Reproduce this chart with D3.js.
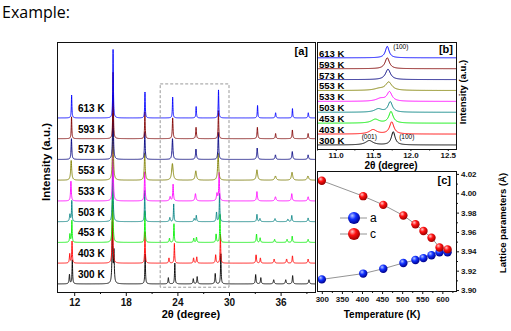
<!DOCTYPE html>
<html>
<head>
<meta charset="utf-8">
<script src="https://cdn.jsdelivr.net/npm/d3@7/dist/d3.min.js"></script>
<style>
  body { margin: 0; background: #fff; }
  svg text { font-family: 'Liberation Sans', Arial, sans-serif; }
</style>
</head>
<body>
<div id="chart-area"></div>
<script>
// temperatures, bottom trace first
const temps = [300, 403, 453, 503, 533, 553, 573, 593, 613]
const traceColors = ['#000000', '#ff0000', '#00ee00', '#008080', '#ff00ff', '#808000', '#000080', '#800000', '#0000ff']

// panel a peaks: [2theta, height (in trace spacings), half width]
const peaksA300 = [[11.45,0.45,.05],[11.78,1.15,.04],[16.44,2.9,.05],[16.62,1.5,.05],[20.25,1.45,.04],[22.95,0.3,.05],[23.7,1.0,.04],[25.85,0.25,.05],[26.3,0.35,.05],[28.4,0.5,.05],[29.05,1.45,.04],[33.1,0.45,.05],[33.7,0.3,.05],[35.2,0.2,.06],[36.6,0.2,.06],[37.4,0.4,.05],[39.3,0.2,.06]]
const peaksA403 = [[11.48,0.45,.05],[11.75,1.05,.04],[16.46,3.0,.05],[20.23,1.5,.04],[23.02,0.25,.05],[23.65,0.95,.04],[25.88,0.25,.05],[26.25,0.3,.05],[28.45,0.4,.05],[29.0,1.4,.04],[33.15,0.4,.05],[33.65,0.25,.05],[35.25,0.2,.06],[36.7,0.2,.06],[37.38,0.35,.05],[39.2,0.2,.06]]
const peaksA453 = [[11.5,0.4,.05],[11.73,1.05,.04],[16.47,3.0,.05],[20.22,1.5,.04],[23.08,0.2,.05],[23.6,0.9,.04],[25.9,0.2,.05],[26.22,0.25,.05],[28.5,0.4,.05],[28.95,1.35,.04],[33.2,0.4,.05],[33.62,0.22,.05],[35.3,0.15,.06],[36.75,0.15,.06],[37.35,0.3,.05],[39.2,0.15,.06]]
const peaksA503 = [[11.5,0.35,.06],[11.72,1.0,.04],[16.48,3.0,.05],[20.2,1.5,.04],[23.12,0.2,.06],[23.57,0.85,.04],[25.95,0.15,.06],[26.2,0.3,.05],[28.55,0.45,.05],[28.9,1.35,.04],[33.25,0.35,.05],[33.6,0.15,.06],[35.35,0.15,.07],[36.85,0.12,.07],[37.3,0.3,.05],[39.2,0.18,.06]]
const peaksA533 = [[11.62,0.95,.05],[16.5,3.0,.05],[20.2,1.4,.05],[23.15,0.2,.07],[23.5,0.8,.05],[26.1,0.35,.07],[28.6,0.35,.07],[28.85,1.35,.05],[33.25,0.45,.06],[35.4,0.2,.08],[37.3,0.35,.06],[39.2,0.2,.07]]
const peaksA553 = [[11.65,0.95,.07],[16.5,2.9,.06],[20.2,1.3,.06],[23.42,0.8,.1],[26.14,0.45,.09],[28.74,1.3,.07],[33.25,0.5,.09],[35.4,0.2,.1],[37.33,0.38,.09],[39.18,0.2,.1]]
const peaksA573 = [[11.68,1.0,.05],[16.51,3.1,.05],[20.21,1.3,.05],[23.43,1.0,.06],[26.16,0.5,.06],[28.76,1.3,.05],[33.28,0.55,.06],[35.4,0.22,.06],[37.36,0.38,.06],[39.2,0.22,.06]]
const peaksA593 = [[11.69,1.05,.04],[16.52,3.2,.04],[20.22,1.3,.04],[23.45,1.0,.05],[26.17,0.55,.05],[28.77,1.35,.04],[33.3,0.55,.05],[35.42,0.25,.05],[37.37,0.42,.05],[39.2,0.25,.05]]
const peaksA613 = [[11.70,1.1,.04],[16.52,3.3,.04],[20.23,1.25,.04],[23.45,1.0,.04],[26.18,0.55,.04],[28.78,1.35,.04],[33.32,0.6,.04],[35.42,0.25,.05],[37.38,0.45,.04],[39.22,0.25,.05]]
const peaksA = [peaksA300, peaksA403, peaksA453, peaksA503, peaksA533, peaksA553, peaksA573, peaksA593, peaksA613]

// panel b, zoom on the (001)/(100) region
const peaksB300 = [[11.45,0.4,.06],[11.77,1.2,.03]]
const peaksB403 = [[11.5,0.4,.06],[11.75,1.1,.035]]
const peaksB453 = [[11.53,0.35,.06],[11.74,1.05,.035]]
const peaksB503 = [[11.57,0.3,.06],[11.73,0.95,.035]]
const peaksB533 = [[11.6,0.25,.07],[11.72,0.85,.04]]
const peaksB553 = [[11.58,0.15,.08],[11.71,0.75,.05]]
const peaksB573 = [[11.70,0.95,.04]]
const peaksB593 = [[11.69,1.0,.035]]
const peaksB613 = [[11.69,1.05,.03]]
const peaksB = [peaksB300, peaksB403, peaksB453, peaksB503, peaksB533, peaksB553, peaksB573, peaksB593, peaksB613]

// panel c, lattice parameters
const latticeT = [300, 403, 453, 503, 533, 553, 573, 593, 613]
const latticeA = [3.911, 3.917, 3.922, 3.928, 3.931, 3.933, 3.936, 3.939, 3.939]
const latticeC = [4.013, 3.997, 3.988, 3.977, 3.968, 3.961, 3.954, 3.944, 3.942]

const ticksA = [12, 18, 24, 30, 36], minorA = [15, 21, 27, 33, 39]
const ticksB = [11.0, 11.5, 12.0, 12.5], minorB = [10.75, 11.25, 11.75, 12.25]
const ticksCx = [300, 350, 400, 450, 500, 550, 600], minorCx = [325, 375, 425, 475, 525, 575, 625]
const ticksCy = [3.90, 3.92, 3.94, 3.96, 3.98, 4.00, 4.02], minorCy = [3.91, 3.93, 3.95, 3.97, 3.99, 4.01]
const zoomBox = [22, 30]

const W = 511, H = 331

let svg = d3.select('#chart-area')
  .append('svg')
    .attr('width', W)
    .attr('height', H)

svg.append('text')
  .attr('x', 2)
  .attr('y', 18)
  .style('font-family', "'Open Sans', 'Noto Sans', sans-serif")
  .attr('font-size', '16px')
  .text('Example:')

function profile (peaks, x) {
  return d3.sum(peaks, p => p[1] / (1 + ((x - p[0]) / p[2]) ** 2))
}

function samples (peaks, lo, hi, step) {
  let xs = d3.range(lo, hi + step / 2, step).concat(peaks.map(p => p[0]))
  xs.sort((a, b) => a - b)
  return xs
}

function frame (x0, x1, y0, y1) {
  svg.append('rect')
    .attr('x', x0 + 0.5).attr('y', y0 + 0.5)
    .attr('width', x1 - x0).attr('height', y1 - y0)
    .attr('fill', 'none')
    .attr('stroke', '#111')
    .attr('stroke-width', 1)
}

function styleAxis (g, size) {
  g.select('.domain').remove()
  g.selectAll('line').attr('stroke', '#111')
  g.selectAll('text')
    .attr('font-size', size)
    .attr('font-weight', 'bold')
    .attr('fill', '#111')
}

// ---------- panel a ----------
let xA = d3.scaleLinear().domain([10, 40]).range([57, 315])
let yA = d3.scaleLinear().domain([-0.39, 11.66]).range([292, 42])

svg.append('clipPath').attr('id', 'clipA')
  .append('rect')
  .attr('x', 57).attr('y', 42).attr('width', 258).attr('height', 250)

let gA = svg.append('g').attr('clip-path', 'url(#clipA)')

peaksA.forEach((peaks, i) => {
  let line = d3.line()
    .x(d => xA(d))
    .y(d => yA(i + profile(peaks, d)))
  gA.append('path')
    .attr('d', line(samples(peaks, 10, 40, 0.01)))
    .attr('fill', 'none')
    .attr('stroke', traceColors[i])
    .attr('stroke-width', 0.9)
})

// dashed zoom box
svg.append('rect')
  .attr('x', xA(zoomBox[0]))
  .attr('y', yA(9.64))
  .attr('width', xA(zoomBox[1]) - xA(zoomBox[0]))
  .attr('height', yA(-0.16) - yA(9.64))
  .attr('fill', 'none')
  .attr('stroke', '#999')
  .attr('stroke-dasharray', '3,2')

temps.forEach((t, i) => {
  svg.append('text')
    .attr('x', 78)
    .attr('y', yA(i) - 6)
    .attr('font-size', '10px')
    .attr('font-weight', 'bold')
    .text(t + ' K')
})

frame(57, 315, 42, 292)

svg.append('g')
  .attr('transform', 'translate(0,292)')
  .call(d3.axisBottom(xA).tickValues(ticksA).tickSize(4).tickPadding(3).tickFormat(d3.format('d')))
  .call(g => styleAxis(g, '10px'))
svg.append('g')
  .attr('transform', 'translate(0,292)')
  .call(d3.axisBottom(xA).tickValues(minorA).tickSize(2).tickFormat(''))
  .call(g => styleAxis(g, '10px'))

svg.append('text')
  .attr('x', 191).attr('y', 318)
  .attr('text-anchor', 'middle')
  .attr('font-size', '11px').attr('font-weight', 'bold')
  .text('2θ (degree)')

svg.append('text')
  .attr('transform', 'translate(50,162) rotate(-90)')
  .attr('text-anchor', 'middle')
  .attr('font-size', '11.5px').attr('font-weight', 'bold')
  .text('Intensity (a.u.)')

svg.append('text')
  .attr('x', 308).attr('y', 55)
  .attr('text-anchor', 'end')
  .attr('font-size', '11px').attr('font-weight', 'bold')
  .text('[a]')

// ---------- panel b ----------
let xB = d3.scaleLinear().domain([10.75, 12.61]).range([317, 456])
let yB = d3.scaleLinear().domain([-0.37, 9.45]).range([149, 42])

svg.append('clipPath').attr('id', 'clipB')
  .append('rect')
  .attr('x', 317).attr('y', 42).attr('width', 139).attr('height', 107)

let gB = svg.append('g').attr('clip-path', 'url(#clipB)')

peaksB.forEach((peaks, i) => {
  let line = d3.line()
    .x(d => xB(d))
    .y(d => yB(i + profile(peaks, d)))
  gB.append('path')
    .attr('d', line(samples(peaks, 10.7, 12.7, 0.004)))
    .attr('fill', 'none')
    .attr('stroke', traceColors[i])
    .attr('stroke-width', 1)
})

temps.forEach((t, i) => {
  svg.append('text')
    .attr('x', 319)
    .attr('y', yB(i) - 1)
    .attr('font-size', '9.5px')
    .attr('font-weight', 'bold')
    .text(t + ' K')
})

svg.append('text')
  .attr('x', xB(11.77)).attr('y', 49)
  .attr('font-size', '6.5px')
  .text('(100)')
svg.append('text')
  .attr('x', xB(11.45)).attr('y', yB(0.55))
  .attr('text-anchor', 'middle')
  .attr('font-size', '6.5px')
  .text('(001)')
svg.append('text')
  .attr('x', xB(11.85)).attr('y', yB(0.55))
  .attr('font-size', '6.5px')
  .text('(100)')

frame(317, 456, 42, 149)

svg.append('g')
  .attr('transform', 'translate(0,149)')
  .call(d3.axisBottom(xB).tickValues(ticksB).tickSize(2).tickPadding(1).tickFormat(d3.format('.1f')))
  .call(g => styleAxis(g, '8px'))
svg.append('g')
  .attr('transform', 'translate(0,149)')
  .call(d3.axisBottom(xB).tickValues(minorB).tickSize(1.5).tickFormat(''))
  .call(g => styleAxis(g, '8px'))

svg.append('text')
  .attr('x', 391).attr('y', 169)
  .attr('text-anchor', 'middle')
  .attr('font-size', '10px').attr('font-weight', 'bold')
  .text('2θ (degree)')

svg.append('text')
  .attr('transform', 'translate(466,92) rotate(-90)')
  .attr('text-anchor', 'middle')
  .attr('font-size', '9.5px').attr('font-weight', 'bold')
  .text('Intensity (a.u.)')

svg.append('text')
  .attr('x', 453).attr('y', 53)
  .attr('text-anchor', 'end')
  .attr('font-size', '11px').attr('font-weight', 'bold')
  .text('[b]')

// ---------- panel c ----------
let xC = d3.scaleLinear().domain([288, 634]).range([317, 456])
let yC = d3.scaleLinear().domain([3.899, 4.023]).range([291, 171])

let defs = svg.append('defs')
function sphereGrad (id, light, mid, dark) {
  let grad = defs.append('radialGradient')
    .attr('id', id)
    .attr('cx', '40%').attr('cy', '35%').attr('r', '65%')
    .attr('fx', '35%').attr('fy', '30%')
  grad.append('stop').attr('offset', '0%').attr('stop-color', light)
  grad.append('stop').attr('offset', '45%').attr('stop-color', mid)
  grad.append('stop').attr('offset', '100%').attr('stop-color', dark)
}
sphereGrad('ballBlue', '#b8c8ff', '#1030ff', '#000088')
sphereGrad('ballRed', '#ffc8c8', '#ff1010', '#990000')

let series = [
  { name: 'a', values: latticeA, fill: 'url(#ballBlue)' },
  { name: 'c', values: latticeC, fill: 'url(#ballRed)' }
]

let lineC = d3.line()
  .x((d, i) => xC(latticeT[i]))
  .y(d => yC(d))

series.forEach(s => {
  svg.append('path')
    .attr('d', lineC(s.values))
    .attr('fill', 'none')
    .attr('stroke', '#888')
    .attr('stroke-width', 0.9)
  svg.selectAll(null)
    .data(s.values)
    .enter()
    .append('circle')
    .attr('cx', (d, i) => xC(latticeT[i]))
    .attr('cy', d => yC(d))
    .attr('r', 4.2)
    .attr('fill', s.fill)
})

// legend
series.forEach((s, i) => {
  let row = svg.append('g')
    .attr('transform', 'translate(340,' + (218 + i * 16) + ')')
  row.append('line')
    .attr('x1', 0).attr('x2', 27)
    .attr('stroke', '#888')
    .attr('stroke-width', 0.9)
  row.append('circle')
    .attr('cx', 14).attr('r', 6)
    .attr('fill', s.fill)
  row.append('text')
    .attr('x', 30).attr('y', 4)
    .attr('font-size', '12px')
    .text(s.name)
})

frame(317, 456, 171, 291)

svg.append('g')
  .attr('transform', 'translate(0,291)')
  .call(d3.axisBottom(xC).tickValues(ticksCx).tickSize(3).tickPadding(2).tickFormat(d3.format('d')))
  .call(g => styleAxis(g, '8px'))
svg.append('g')
  .attr('transform', 'translate(0,291)')
  .call(d3.axisBottom(xC).tickValues(minorCx).tickSize(2).tickFormat(''))
  .call(g => styleAxis(g, '8px'))

svg.append('g')
  .attr('transform', 'translate(456,0)')
  .call(d3.axisRight(yC).tickValues(ticksCy).tickSize(3).tickPadding(2).tickFormat(d3.format('.2f')))
  .call(g => styleAxis(g, '8px'))
svg.append('g')
  .attr('transform', 'translate(456,0)')
  .call(d3.axisRight(yC).tickValues(minorCy).tickSize(2).tickFormat(''))
  .call(g => styleAxis(g, '8px'))

svg.append('text')
  .attr('x', 382).attr('y', 318)
  .attr('text-anchor', 'middle')
  .attr('font-size', '10px').attr('font-weight', 'bold')
  .text('Temperature (K)')

svg.append('text')
  .attr('transform', 'translate(506,223) rotate(-90)')
  .attr('text-anchor', 'middle')
  .attr('font-size', '9.5px').attr('font-weight', 'bold')
  .text('Lattice parameters (Å)')

svg.append('text')
  .attr('x', 451).attr('y', 184)
  .attr('text-anchor', 'end')
  .attr('font-size', '11px').attr('font-weight', 'bold')
  .text('[c]')
</script>
</body>
</html>
